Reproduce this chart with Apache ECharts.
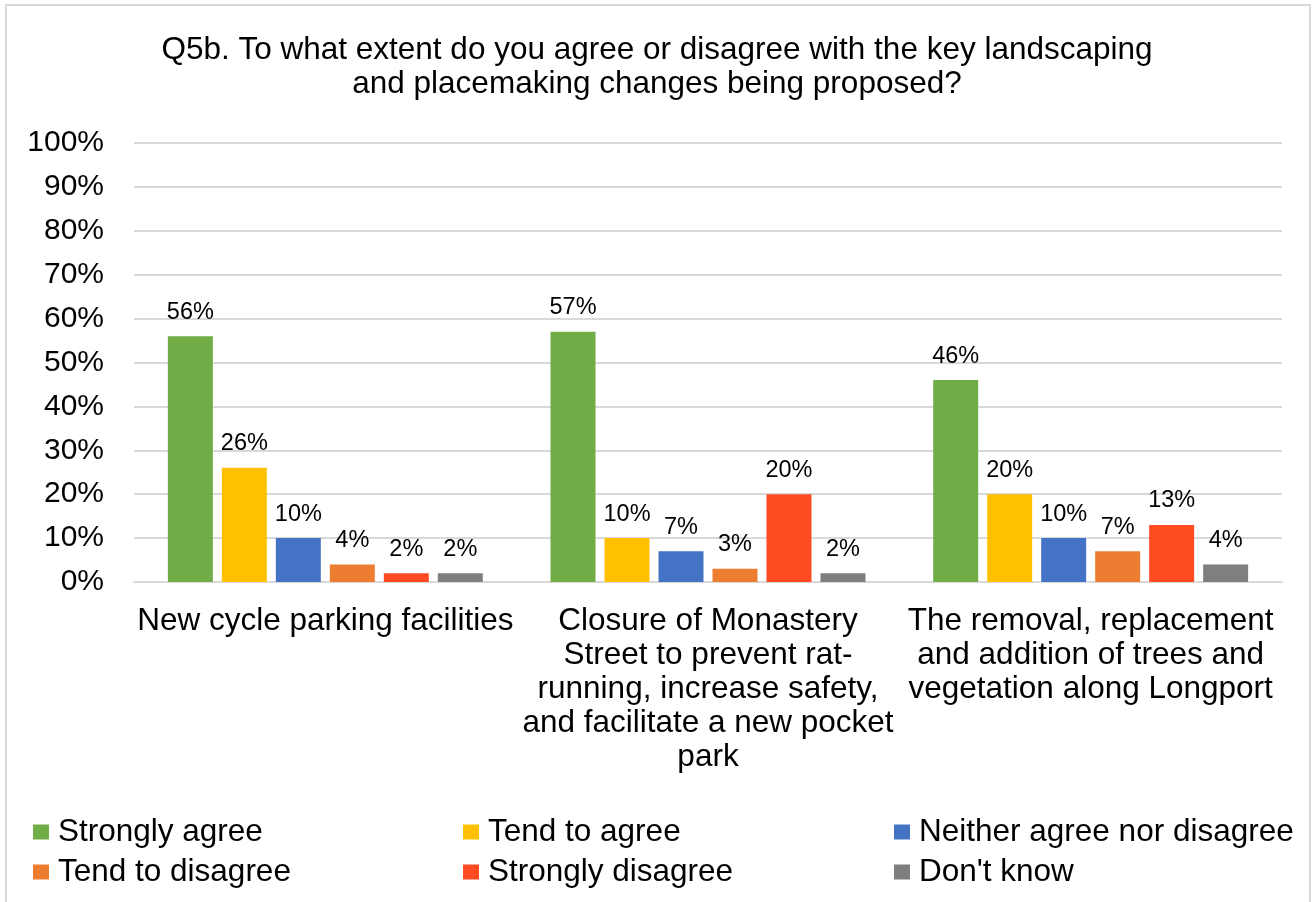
<!DOCTYPE html>
<html>
<head>
<meta charset="utf-8">
<script src="https://cdn.jsdelivr.net/npm/echarts@6/dist/echarts.min.js"></script>
<style>
  html, body { margin: 0; padding: 0; background: #ffffff; }
  #chart { width: 1314px; height: 902px; }
</style>
</head>
<body>
<div id="chart"></div>
<script>
// Survey question and answer groups
const titleText = 'Q5b. To what extent do you agree or disagree with the key landscaping\nand placemaking changes being proposed?';

const categories = [
  'New cycle parking facilities',
  'Closure of Monastery\nStreet to prevent rat-\nrunning, increase safety,\nand facilitate a new pocket\npark',
  'The removal, replacement\nand addition of trees and\nvegetation along Longport'
];

const seriesNames = [
  'Strongly agree',
  'Tend to agree',
  'Neither agree nor disagree',
  'Tend to disagree',
  'Strongly disagree',
  "Don't know"
];

// Percentages per answer, one value per category
const stronglyAgree = [56, 57, 46];
const tendToAgree = [26, 10, 20];
const neitherAgreeNorDisagree = [10, 7, 10];
const tendToDisagree = [4, 3, 7];
const stronglyDisagree = [2, 20, 13];
const dontKnow = [2, 2, 4];

const yTicks = { min: 0, max: 100, interval: 10 };

const seriesValues = [
  stronglyAgree, tendToAgree, neitherAgreeNorDisagree,
  tendToDisagree, stronglyDisagree, dontKnow
];
const colors = ['#70ad47', '#ffc000', '#4472c4', '#ed7d31', '#ff4b22', '#7f7f7f'];

const font = '"Liberation Sans", Arial, sans-serif';

// Legend laid out as a 3 x 2 grid, one legend block per entry
const legendCols = [33, 463, 894];
const legendRows = [816, 856];
const legends = seriesNames.map((name, i) => ({
  data: [name],
  left: legendCols[i % 3],
  top: legendRows[Math.floor(i / 3)],
  icon: 'rect',
  itemWidth: 16,
  itemHeight: 15,
  padding: 0,
  selectedMode: false,
  textStyle: {
    fontFamily: font,
    fontSize: 31.5,
    color: '#000000',
    padding: [0, 0, 0, 4]
  }
}));

const chart = echarts.init(document.getElementById('chart'), null, { renderer: 'canvas' });

chart.setOption({
  animation: false,
  backgroundColor: '#ffffff',
  color: colors,
  title: {
    text: titleText,
    left: 'center',
    top: 28,
    textStyle: {
      fontFamily: font,
      fontSize: 31.5,
      fontWeight: 'normal',
      color: '#000000',
      lineHeight: 34
    }
  },
  graphic: [{
    type: 'rect',
    shape: { x: 6, y: 5, width: 1304, height: 1000 },
    style: { fill: 'none', stroke: '#d9d9d9', lineWidth: 2 },
    silent: true,
    z: -1
  }],
  legend: legends,
  grid: { left: 134, right: 32, top: 143, bottom: 320, containLabel: false },
  xAxis: {
    type: 'category',
    data: categories,
    axisLine: { show: true, lineStyle: { color: '#d9d9d9', width: 2 } },
    axisTick: { show: false },
    axisLabel: {
      interval: 0,
      margin: 22,
      fontFamily: font,
      fontSize: 31.5,
      lineHeight: 34,
      color: '#000000'
    }
  },
  yAxis: {
    type: 'value',
    min: yTicks.min,
    max: yTicks.max,
    interval: yTicks.interval,
    axisLine: { show: false },
    axisTick: { show: false },
    splitLine: { lineStyle: { color: '#d9d9d9', width: 2 } },
    axisLabel: {
      formatter: '{value}%',
      margin: 30,
      fontFamily: font,
      fontSize: 30,
      color: '#000000'
    }
  },
  series: seriesNames.map((name, i) => ({
    name: name,
    type: 'bar',
    data: seriesValues[i],
    barGap: '20%',
    barCategoryGap: '17.7%',
    itemStyle: { color: colors[i] },
    label: {
      show: true,
      position: 'top',
      distance: 12,
      formatter: '{c}%',
      fontFamily: font,
      fontSize: 23.5,
      color: '#000000'
    }
  }))
});
</script>
</body>
</html>
